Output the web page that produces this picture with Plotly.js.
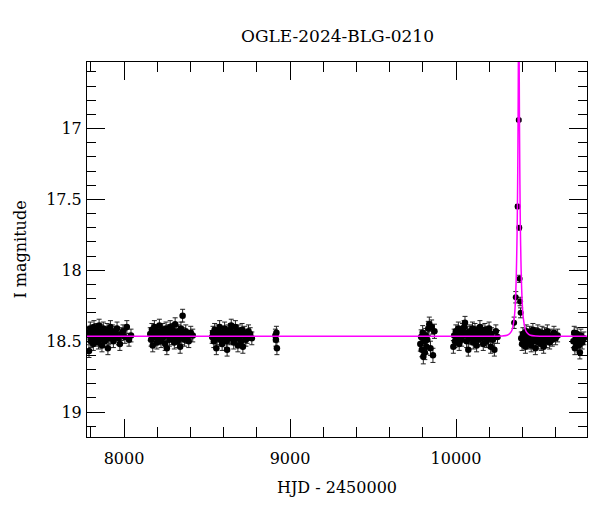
<!DOCTYPE html>
<html>
<head>
<meta charset="utf-8">
<script src="https://cdn.plot.ly/plotly-3.0.1.min.js"></script>
<style>html,body{margin:0;padding:0;background:#fff;}#chart{width:600px;height:512px;}</style>
</head>
<body>
<div id="chart"></div>
<script>
// ---- data (HJD - 2450000, I magnitude) ----
const s1_t = [7786,7789,7793,7797,7800,7804,7808,7811,7815,7819,7823,7826,7830,7834,7838,7842,7846,7850,7854,7858,7862,7867,7871,7875,7880,7884,7889,7893,7898,7903,7908,7913,7918,7924,7930,7936,7943,7950,7958,7966,7975,7984,7994,8005,8017,8030,8042];
const s1_m = [18.44,18.57,18.46,18.41,18.50,18.45,18.43,18.48,18.52,18.40,18.46,18.44,18.49,18.42,18.47,18.45,18.51,18.39,18.46,18.48,18.43,18.53,18.45,18.41,18.47,18.50,18.44,18.46,18.42,18.55,18.48,18.45,18.40,18.47,18.43,18.50,18.46,18.44,18.41,18.48,18.52,18.45,18.43,18.47,18.40,18.49,18.46];

const s2_t = [8158,8163,8168,8173,8178,8183,8188,8193,8198,8203,8208,8213,8218,8223,8228,8233,8238,8243,8248,8253,8258,8263,8268,8273,8278,8283,8288,8293,8298,8303,8308,8313,8318,8323,8328,8333,8338,8343,8348,8353,8358,8365,8372,8380,8390,8402,8414];
const s2_m = [18.45,18.49,18.42,18.53,18.46,18.40,18.47,18.44,18.51,18.43,18.48,18.39,18.46,18.50,18.44,18.42,18.47,18.45,18.52,18.41,18.55,18.46,18.43,18.49,18.40,18.45,18.48,18.42,18.46,18.51,18.38,18.47,18.44,18.50,18.43,18.46,18.54,18.41,18.48,18.32,18.45,18.49,18.43,18.47,18.50,18.44,18.46];

const s3_t = [8531,8536,8541,8546,8551,8556,8561,8566,8571,8576,8581,8586,8591,8596,8601,8606,8611,8616,8621,8626,8631,8636,8641,8646,8651,8656,8661,8666,8671,8676,8681,8686,8691,8696,8701,8706,8711,8716,8721,8727,8734,8741,8750,8760,8770];
const s3_m = [18.47,18.44,18.50,18.42,18.46,18.55,18.48,18.43,18.45,18.40,18.49,18.46,18.52,18.44,18.47,18.41,18.45,18.50,18.56,18.43,18.46,18.48,18.42,18.39,18.47,18.45,18.51,18.44,18.40,18.48,18.46,18.53,18.43,18.47,18.45,18.50,18.42,18.54,18.46,18.44,18.49,18.47,18.43,18.45,18.48];

const s4_t = [8912,8915,8918,8921];
const s4_m = [18.46,18.49,18.44,18.55];

const s5_t = [9785,9790,9794,9799,9803,9808,9812,9817,9822,9827,9833,9839,9846,9853,9861,9870];
const s5_m = [18.52,18.47,18.56,18.44,18.61,18.50,18.58,18.46,18.54,18.49,18.41,18.38,18.55,18.40,18.60,18.43];

const s6_t = [9984,9989,9994,9999,10004,10009,10014,10019,10024,10029,10034,10039,10044,10049,10054,10059,10064,10069,10074,10079,10084,10089,10094,10099,10104,10109,10114,10119,10124,10129,10134,10139,10144,10149,10154,10159,10164,10169,10174,10179,10184,10189,10194,10199,10204,10209,10214,10222,10231,10240,10250];
const s6_m = [18.54,18.46,18.50,18.43,18.48,18.45,18.41,18.52,18.47,18.44,18.49,18.42,18.46,18.40,18.37,18.45,18.50,18.44,18.56,18.47,18.43,18.48,18.46,18.41,18.51,18.45,18.42,18.47,18.53,18.44,18.49,18.46,18.40,18.48,18.43,18.45,18.52,18.47,18.42,18.46,18.50,18.44,18.48,18.41,18.46,18.54,18.45,18.49,18.56,18.43,18.47];

const peak_t = [10350,10360,10371,10378,10381,10383,10386,10389];
const peak_m = [18.37,18.19,17.55,16.94,17.70,18.06,18.22,18.30];
const peak_e = [0.04,0.04,0.015,0.01,0.015,0.025,0.03,0.035];

const s7_t = [10393,10398,10403,10408,10413,10418,10423,10428,10433,10438,10443,10448,10453,10458,10463,10468,10473,10478,10483,10488,10493,10498,10503,10508,10513,10518,10523,10528,10533,10538,10544,10550,10557,10564,10572,10580,10590,10600,10612];
const s7_m = [18.48,18.52,18.45,18.50,18.47,18.54,18.43,18.49,18.46,18.51,18.44,18.48,18.53,18.46,18.42,18.50,18.47,18.55,18.45,18.49,18.43,18.51,18.47,18.46,18.52,18.44,18.49,18.54,18.45,18.48,18.50,18.43,18.47,18.51,18.46,18.49,18.44,18.48,18.46];

const s8_t = [10707,10712,10716,10721,10725,10730,10735,10740,10746,10752,10760,10770];
const s8_m = [18.50,18.44,18.55,18.47,18.52,18.45,18.49,18.53,18.58,18.46,18.51,18.48];

const baseErr = 0.045;
const s5Err = 0.05;

// microlensing model curve
const model_t = [7700,10178,10278,10308,10328,10338,10348,10353,10358,10362,10365,10368,10370,10372,10374,10375,10376,10377,10378,10379,10380,10381,10382,10384,10386,10388,10391,10394,10398,10403,10408,10418,10428,10448,10478,10578,10900];
const model_m = [18.465,18.465,18.463,18.458,18.44,18.42,18.36,18.31,18.21,18.08,17.93,17.73,17.53,17.27,16.91,16.67,16.39,16.11,15.96,16.11,16.39,16.67,16.91,17.27,17.53,17.73,17.93,18.08,18.21,18.31,18.36,18.42,18.44,18.458,18.463,18.465,18.465];

const tickVals = [17,17.5,18,18.5,19];
const tickText = ['17','17.5','18','18.5','19'];
const xTickVals = [8000,9000,10000];
const xTickText = ['8000','9000','10000'];

// ---- traces ----
const FONT = '"DejaVu Serif", "Liberation Serif", serif';
function season(t, m, err) {
  return {
    x: t, y: m, type: 'scatter', mode: 'markers',
    marker: {color: '#000', size: 6.5},
    error_y: {type: 'constant', value: err, color: '#222', thickness: 1, width: 2.5},
    hoverinfo: 'x+y', showlegend: false
  };
}
const traces = [
  season(s1_t, s1_m, baseErr),
  season(s2_t, s2_m, baseErr),
  season(s3_t, s3_m, baseErr),
  season(s4_t, s4_m, baseErr),
  season(s5_t, s5_m, s5Err),
  season(s6_t, s6_m, baseErr),
  {
    x: peak_t, y: peak_m, type: 'scatter', mode: 'markers',
    marker: {color: '#000', size: 6},
    error_y: {type: 'data', array: peak_e, color: '#222', thickness: 1, width: 2.5},
    showlegend: false
  },
  season(s7_t, s7_m, baseErr),
  season(s8_t, s8_m, baseErr),
  {
    x: model_t, y: model_m, type: 'scatter', mode: 'lines',
    line: {color: '#ff00ff', width: 1.5, shape: 'spline', smoothing: 0.6},
    showlegend: false
  }
];

const axisCommon = {
  showline: true, linecolor: '#000', linewidth: 1,
  mirror: 'allticks', ticks: 'inside', tickcolor: '#000', tickwidth: 1,
  showgrid: false, zeroline: false,
  tickfont: {family: FONT, size: 16, color: '#000'}
};

const layout = {
  width: 600, height: 512,
  margin: {l: 87, r: 13, t: 62, b: 75},
  paper_bgcolor: '#fff', plot_bgcolor: '#fff',
  font: {family: FONT, color: '#000'},
  title: {text: 'OGLE-2024-BLG-0210', font: {family: FONT, size: 17, color: '#000'},
          x: 0.5625, xanchor: 'center', y: 0.93, yanchor: 'middle'},
  xaxis: Object.assign({}, axisCommon, {
    range: [7777, 10789],
    tickmode: 'array', tickvals: xTickVals, ticktext: xTickText, ticklen: 18,
    ticklabelstandoff: 7,
    minor: {dtick: 200, tick0: 0, ticks: 'inside', ticklen: 10, tickcolor: '#000', tickwidth: 1, showgrid: false},
    title: {text: 'HJD - 2450000', font: {family: FONT, size: 16, color: '#000'}, standoff: 14}
  }),
  yaxis: Object.assign({}, axisCommon, {
    range: [19.176, 16.53],
    tickmode: 'array', tickvals: tickVals, ticktext: tickText, ticklen: 18,
    ticklabelstandoff: 1,
    minor: {dtick: 0.1, tick0: 0, ticks: 'inside', ticklen: 9, tickcolor: '#000', tickwidth: 1, showgrid: false},
    title: {text: 'I magnitude', font: {family: FONT, size: 16, color: '#000'}, standoff: 15}
  })
};

Plotly.newPlot('chart', traces, layout, {displayModeBar: false, staticPlot: true});
</script>
</body>
</html>
